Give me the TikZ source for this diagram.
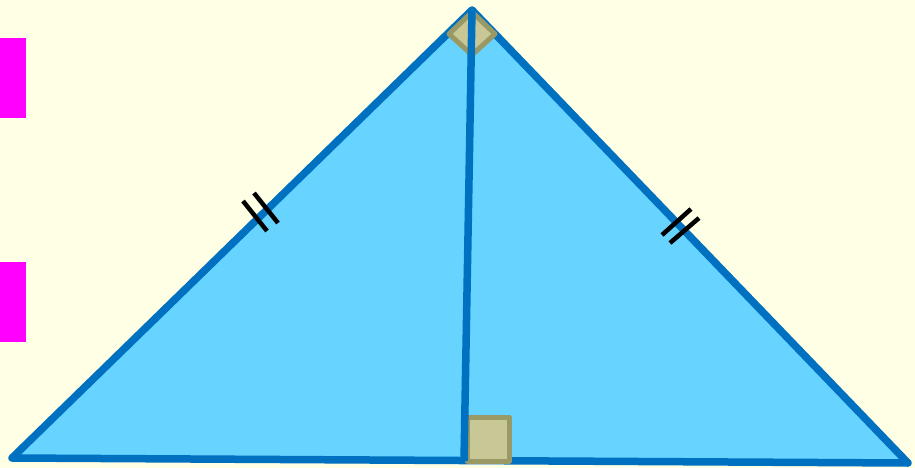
\documentclass[tikz,border=0pt]{standalone}
\definecolor{bg}{RGB}{255,255,229}
\definecolor{edge}{RGB}{0,112,192}
\definecolor{fillb}{RGB}{102,212,255}
\definecolor{mark}{RGB}{200,200,150}
\definecolor{markline}{RGB}{153,153,102}
\definecolor{mag}{RGB}{255,0,255}
\begin{document}
\begin{tikzpicture}[x=1pt,y=-1pt,
  sidestyle/.style={draw=edge,line width=7.5pt,line join=round,line cap=round},
  anglemark/.style={fill=mark,draw=markline,line width=5pt,line join=round},
  tickstyle/.style={draw=black,line width=4.5pt}]
\useasboundingbox[fill=bg] (0,0) rectangle (915,468);
\fill[mag] (0,38) rectangle (26,118);
\fill[mag] (0,262) rectangle (26,342);
\coordinate (A) at (472,10);
\coordinate (B) at (12,458);
\coordinate (C) at (908,463);
\coordinate (D) at (464,461);
\fill[fillb] (A) -- (B) -- (C) -- cycle;
\draw[sidestyle] (A) -- (B) -- (C) -- cycle;
\draw[anglemark] (467,417) rectangle (509,461);
\draw[anglemark] (472,12) -- (449,34) -- (472,55) -- (495,34) -- cycle;
\draw[sidestyle,line cap=butt] (A) -- (D);
\draw[tickstyle] (243,201) -- (267,231);
\draw[tickstyle] (254,193) -- (278,223);
\draw[tickstyle] (662,235) -- (691,209);
\draw[tickstyle] (670,243) -- (699,218);
\end{tikzpicture}
\end{document}
